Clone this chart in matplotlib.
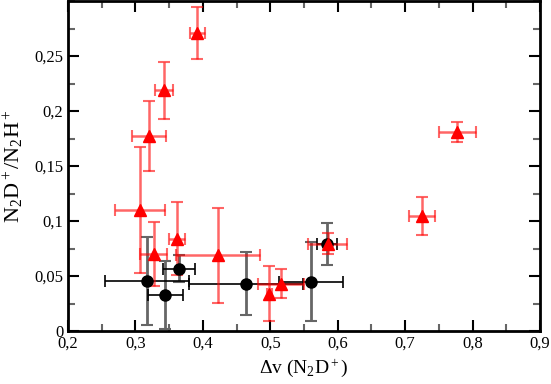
import matplotlib
matplotlib.use('Agg')
import matplotlib.pyplot as plt
from matplotlib.ticker import MultipleLocator, FixedLocator

plt.rcParams['font.family'] = 'Liberation Serif'
plt.rcParams['mathtext.fontset'] = 'custom'
plt.rcParams['mathtext.rm'] = 'Liberation Serif'
plt.rcParams['mathtext.it'] = 'Liberation Serif:italic'

# red triangles
red_x = [0.392, 0.342, 0.320, 0.307, 0.3275, 0.362, 0.423, 0.4985, 0.516, 0.585, 0.725, 0.777]
red_y = [0.271, 0.219, 0.1775, 0.110, 0.0697, 0.084, 0.0688, 0.034, 0.0432, 0.0794, 0.1045, 0.181]
red_xerr = [0.011, 0.013, 0.025, 0.037, 0.020, 0.0115, 0.0625, 0.004, 0.034, 0.029, 0.019, 0.0275]
red_yerr = [0.024, 0.026, 0.032, 0.057, 0.029, 0.033, 0.043, 0.025, 0.0136, 0.0095, 0.017, 0.009]

# black circles
blk_x = [0.317, 0.3443, 0.365, 0.464, 0.5605, 0.584]
blk_y = [0.0453, 0.0329, 0.0568, 0.0432, 0.0447, 0.0788]
blk_xerr = [0.062, 0.026, 0.024, 0.084, 0.048, 0.015]
blk_yerr = [0.040, 0.031, 0.012, 0.029, 0.036, 0.019]

xticks = [0.2, 0.3, 0.4, 0.5, 0.6, 0.7, 0.8, 0.9]
xlabels = ['0,2', '0,3', '0,4', '0,5', '0,6', '0,7', '0,8', '0,9']
yticks = [0, 0.05, 0.1, 0.15, 0.2, 0.25]
ylabels = ['0', '0,05', '0,1', '0,15', '0,2', '0,25']

fig = plt.figure(figsize=(5.51, 3.84), dpi=100)
ax = fig.add_axes([0.1234, 0.138, 0.8566, 0.859])

# black: grey vertical bars, black horizontal bars
ax.errorbar(blk_x, blk_y, yerr=blk_yerr, fmt='none', ecolor='#666666', elinewidth=2, capsize=4, capthick=1.5)
ax.errorbar(blk_x, blk_y, xerr=blk_xerr, fmt='none', ecolor='black', elinewidth=1.2, capsize=4, capthick=1.2)
ax.plot(blk_x, blk_y, 'o', color='black', markersize=8, zorder=5)

# red: translucent bars
ax.errorbar(red_x, red_y, yerr=red_yerr, xerr=red_xerr, fmt='none', ecolor='red', alpha=0.6,
            elinewidth=1.8, capsize=4, capthick=1.5)
ax.plot(red_x, red_y, '^', color='red', markersize=8, zorder=6)

ax.set_xlim(0.2, 0.9)
ax.set_ylim(0, 0.3)
ax.xaxis.set_major_locator(FixedLocator(xticks))
ax.set_xticklabels(xlabels)
ax.xaxis.set_minor_locator(MultipleLocator(0.05))
ax.yaxis.set_major_locator(FixedLocator(yticks))
ax.set_yticklabels(ylabels)
ax.yaxis.set_minor_locator(MultipleLocator(0.025))
ax.tick_params(which='both', direction='in', top=True, right=True, labelsize=12)
ax.tick_params(which='major', length=8, width=1.5)
ax.tick_params(which='minor', length=5, width=1.5, color='#666666')
for s in ax.spines.values():
    s.set_linewidth(2)

ax.set_xlabel('Δv (N$_2$D$^+$)', fontsize=14, labelpad=4)
ax.set_ylabel('N$_2$D$^+$/N$_2$H$^+$', fontsize=16, labelpad=6)

fig.savefig('out.png', dpi=100)
